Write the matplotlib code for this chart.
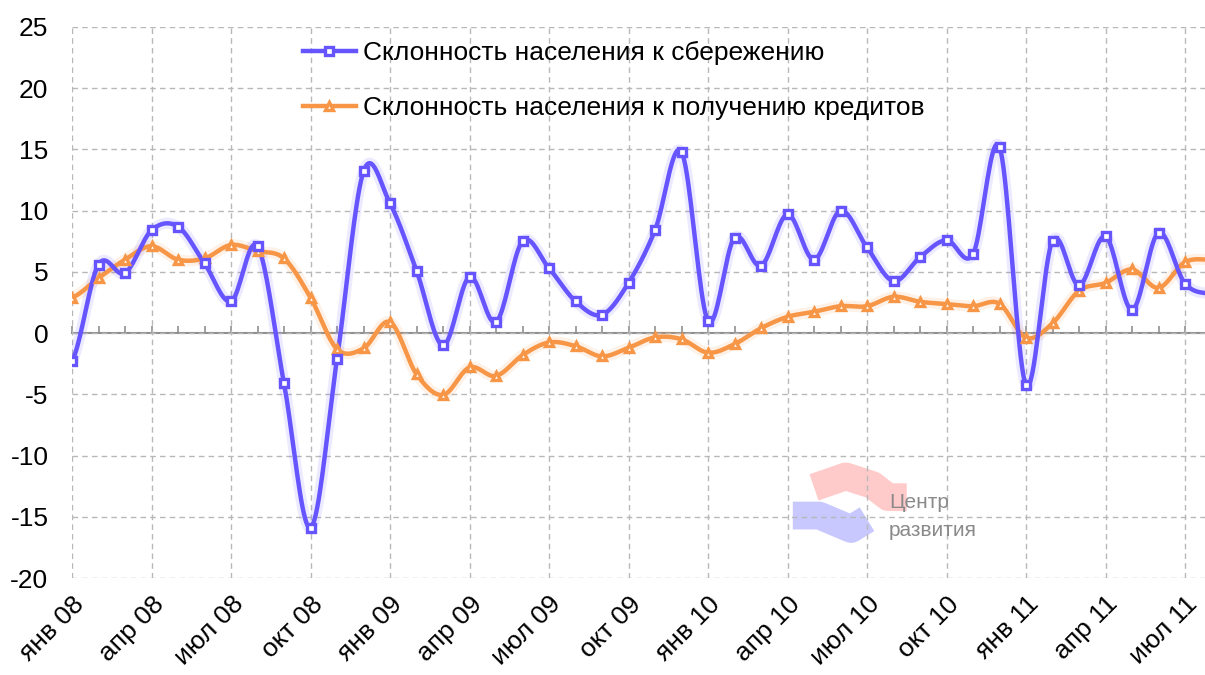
import numpy as np
import matplotlib
matplotlib.use("Agg")
import matplotlib.pyplot as plt
from matplotlib.lines import Line2D

plt.rcParams['font.family'] = ['Liberation Sans', 'DejaVu Sans']
plt.rcParams['axes.unicode_minus'] = False

# monthly data, jan 2008 .. aug 2011
savings = [-2.3, 5.6, 4.9, 8.4, 8.7, 5.7, 2.6, 7.1, -4.1, -15.9, -2.1, 13.2,
           10.6, 5.1, -1.0, 4.6, 0.9, 7.5, 5.3, 2.6, 1.5, 4.1, 8.4, 14.8,
           1.0, 7.8, 5.5, 9.7, 6.0, 10.0, 7.0, 4.25, 6.2, 7.6, 6.45, 15.2,
           -4.25, 7.55, 3.9, 7.9, 1.9, 8.2, 4.05, 3.2]
credit = [2.9, 4.5, 6.0, 7.1, 6.0, 6.1, 7.2, 6.7, 6.1, 2.9, -1.3, -1.25,
          0.9, -3.35, -5.05, -2.8, -3.5, -1.8, -0.76, -1.06, -1.9, -1.2, -0.35, -0.5,
          -1.6, -0.9, 0.4, 1.33, 1.74, 2.2, 2.2, 2.97, 2.56, 2.37, 2.2, 2.4,
          -0.38, 0.8, 3.46, 4.1, 5.2, 3.7, 5.8, 6.0]
tick_labels = ['янв 08', 'апр 08', 'июл 08', 'окт 08',
               'янв 09', 'апр 09', 'июл 09', 'окт 09',
               'янв 10', 'апр 10', 'июл 10', 'окт 10',
               'янв 11', 'апр 11', 'июл 11']
labels = ['Склонность населения к сбережению',
          'Склонность населения к получению кредитов']

BLUE = '#6655ff'
ORANGE = '#f79646'


def smooth(y, n=20):
    # catmull-rom, like excel "smoothed line"
    y = np.asarray(y, float)
    p = np.concatenate([[y[0]], y, [y[-1]]])
    xs, ys = [], []
    for i in range(len(y) - 1):
        p0, p1, p2, p3 = p[i], p[i + 1], p[i + 2], p[i + 3]
        t = np.linspace(0, 1, n, endpoint=False)
        yy = 0.5 * (2 * p1 + (-p0 + p2) * t + (2 * p0 - 5 * p1 + 4 * p2 - p3) * t ** 2
                    + (-p0 + 3 * p1 - 3 * p2 + p3) * t ** 3)
        xs.append(i + t)
        ys.append(yy)
    xs.append([len(y) - 1])
    ys.append([y[-1]])
    return np.concatenate(xs), np.concatenate(ys)


fig = plt.figure(figsize=(12.05, 6.75), dpi=100)
ax = fig.add_axes([72 / 1205, 1 - 578 / 675, 1 - 72 / 1205, (578 - 27) / 675])

x = np.arange(len(savings))
for data, col, mk in [(credit, ORANGE, '^'), (savings, BLUE, 's')]:
    sx, sy = smooth(data)
    ax.plot(sx, sy, color=col, lw=8, alpha=0.12, solid_capstyle='round', zorder=3)
    ax.plot(sx, sy, color=col, lw=3.2, zorder=4)
    ax.plot(x, data, ls='none', marker=mk, ms=6, mfc='white', mec=col, mew=2.4, zorder=5)

ax.set_xlim(0, (1205 - 72) / 26.5)
ax.set_ylim(-20, 25)
ax.set_yticks(range(-20, 26, 5))
ax.set_xticks(range(0, 43, 3))
ax.set_xticklabels(tick_labels, rotation=45, ha='right', rotation_mode='anchor')
ax.tick_params(axis='both', length=0, labelsize=19, colors='black')
ax.tick_params(axis='x', pad=10)
ax.tick_params(axis='y', pad=17)
for s in ax.spines.values():
    s.set_visible(False)
ax.grid(True, color='#b8b8b8', ls=(0, (4, 3)), lw=1)

# zero line with monthly ticks
sec = ax.secondary_xaxis(20 / 45)
sec.set_xticks(range(0, 44))
sec.set_xticklabels([])
sec.tick_params(direction='in', length=5, color='#909090', width=1.2)
sec.spines['bottom'].set_color('#909090')
sec.spines['bottom'].set_linewidth(1.5)

handles = [Line2D([], [], color=BLUE, lw=3.2, marker='s', ms=6, mfc='white', mec=BLUE, mew=2.4),
           Line2D([], [], color=ORANGE, lw=3.2, marker='^', ms=6, mfc='white', mec=ORANGE, mew=2.4)]
fig.legend(handles, labels, loc='upper left', bbox_to_anchor=(279 / 1205, 1 - 17 / 675),
           frameon=False, fontsize=19, handlelength=2.0, handletextpad=0.28,
           labelspacing=1.2)

# watermark
ax.plot([28.0, 29.2, 30.2, 30.8, 31.5], [-12.6, -11.7, -12.4, -13.4, -13.4],
        color='#ffa0a0', lw=20, alpha=0.55, solid_capstyle='butt', zorder=1)
ax.plot([27.2, 28.2, 29.4, 30.0], [-14.9, -14.9, -16.0, -15.2],
        color='#9c9cff', lw=20, alpha=0.55, solid_capstyle='butt', zorder=1)
fig.text(889 / 1205, 1 - 502 / 675, 'Центр', fontsize=15, color='#8a8a8a', va='center')
fig.text(889 / 1205, 1 - 531 / 675, 'развития', fontsize=15, color='#8a8a8a', va='center')

fig.savefig('out.png', dpi=100)
